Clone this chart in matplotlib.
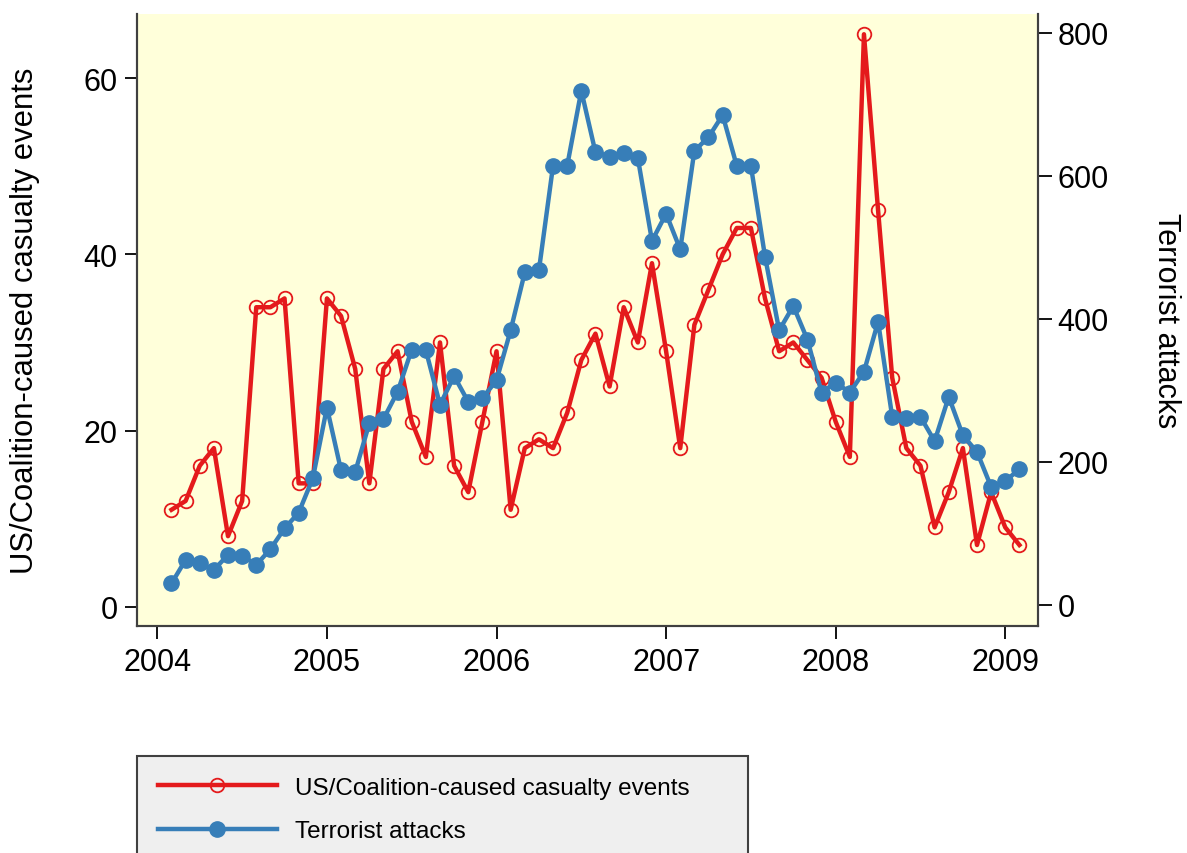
import matplotlib
matplotlib.use("Agg")
import matplotlib.pyplot as plt
import pandas as pd
import numpy as np

plt.rcParams['font.family'] = ['Liberation Sans', 'DejaVu Sans']

months = pd.period_range('2004-02', '2009-02', freq='M')
casualty_events = [11, 12, 16, 18, 8, 12, 34, 34, 35, 14,
                   14, 35, 33, 27, 14, 27, 29, 21, 17, 30,
                   16, 13, 21, 29, 11, 18, 19, 18, 22, 28,
                   31, 25, 34, 30, 39, 29, 18, 32, 36, 40,
                   43, 43, 35, 29, 30, 28, 26, 21, 17, 65,
                   45, 26, 18, 16, 9, 13, 18, 7, 13, 9, 7]
terrorist_attacks = [30, 63, 58, 49, 70, 69, 56, 78, 107, 129,
                     177, 276, 188, 186, 254, 260, 298, 357, 356, 280,
                     320, 284, 289, 314, 384, 465, 468, 614, 614, 719,
                     633, 627, 632, 625, 509, 547, 497, 635, 654, 685,
                     614, 614, 487, 384, 418, 371, 297, 311, 297, 326,
                     396, 263, 261, 263, 229, 291, 237, 214, 165, 173, 190]
x_ticks = [2004, 2005, 2006, 2007, 2008, 2009]
left_ticks = [0, 20, 40, 60]
right_ticks = [0, 200, 400, 600, 800]

x = np.array([p.year + (p.month - 1) / 12 for p in months])

RED = '#E41A1C'
BLUE = '#377EB8'
SPINE = '#404040'

W, H = 1187, 854
fig = plt.figure(figsize=(W / 100, H / 100), dpi=100, facecolor='white')
ax = fig.add_axes([137 / W, 1 - 627 / H, (1038 - 137) / W, (627 - 15) / H])
ax.set_facecolor('#FFFFDA')
ax2 = ax.twinx()

l1, = ax.plot(x, casualty_events, color=RED, lw=3.2, marker='o', ms=9.8,
              mfc='none', mec=RED, mew=1.3, zorder=3,
              label='US/Coalition-caused casualty events')
l2, = ax2.plot(x, terrorist_attacks, color=BLUE, lw=3.2, marker='o', ms=11,
               mfc=BLUE, mec=BLUE, zorder=4, label='Terrorist attacks')

ax.set_xlim(2003.880, 2009.193)
ax.set_ylim(-2.2, 67.3)
ax2.set_ylim(-29.5, 826.3)

ax.set_xticks(x_ticks)
ax.set_xticklabels([str(t) for t in x_ticks])
ax.set_yticks(left_ticks)
ax2.set_yticks(right_ticks)

for a in (ax, ax2):
    for s in a.spines.values():
        s.set_color(SPINE)
        s.set_linewidth(1.5)
    a.spines['top'].set_visible(False)
    a.tick_params(colors='black', labelsize=22, width=1.3, length=9)
    for t in a.get_xticklines() + a.get_yticklines():
        t.set_color(SPINE)

ax.tick_params(axis='y', pad=5)
ax.tick_params(axis='x', pad=6)
ax2.tick_params(axis='y', length=10, pad=4)

ax.set_ylabel('US/Coalition-caused casualty events', fontsize=22.3, labelpad=31)
ax2.set_ylabel('Terrorist attacks', fontsize=22, rotation=270, labelpad=52)

leg = fig.legend(handles=[l1, l2], loc='upper left',
                 bbox_to_anchor=(137 / W, 0, (748 - 137) / W, 1 - 757 / H),
                 bbox_transform=fig.transFigure, mode='expand',
                 borderaxespad=0, fontsize=17.5, handlelength=4.9,
                 handletextpad=0.75, labelspacing=0.88, borderpad=0.85,
                 fancybox=False, framealpha=1, facecolor='#EFEFEF',
                 edgecolor=SPINE)
leg.get_frame().set_linewidth(1.5)

fig.savefig('out.png', dpi=100, facecolor='white')
